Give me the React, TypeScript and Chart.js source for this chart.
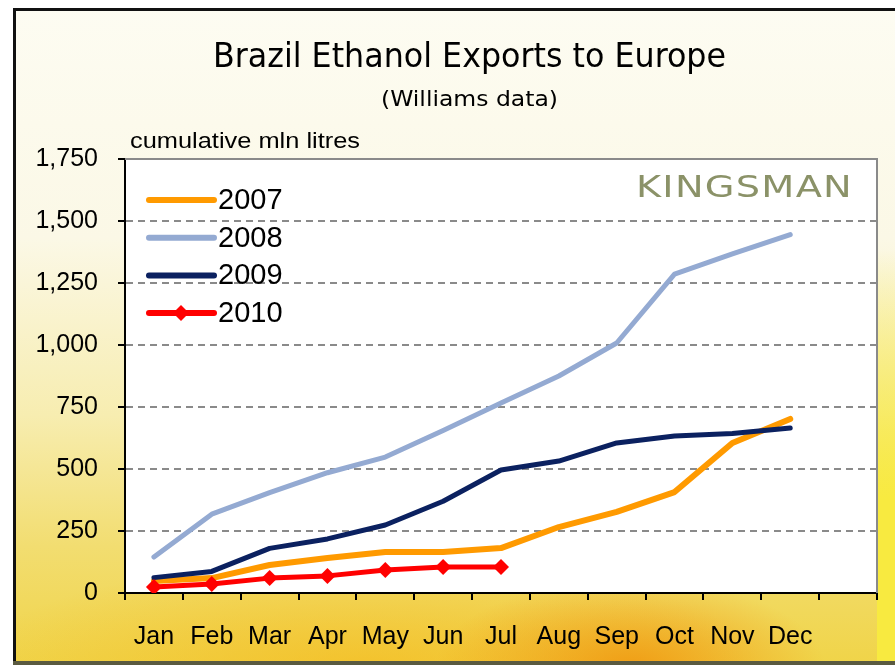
import React, { useEffect, useRef } from "react";
import { Chart, registerables } from "chart.js";

Chart.register(...registerables);

const months = ["Jan", "Feb", "Mar", "Apr", "May", "Jun", "Jul", "Aug", "Sep", "Oct", "Nov", "Dec", ""];
const s2007 = [48, 60, 113, 141, 165, 165, 181, 266, 327, 407, 605, 702];
const s2008 = [145, 318, 405, 485, 548, 655, 766, 875, 1008, 1286, 1367, 1445];
const s2009 = [62, 87, 180, 218, 274, 370, 496, 532, 605, 633, 643, 665];
const s2010 = [24, 36, 60, 69, 93, 105, 105];
const seriesNames = ["2007", "2008", "2009", "2010"];
const yTicks = [0, 250, 500, 750, 1000, 1250, 1500, 1750];

const TITLE = "Brazil Ethanol Exports to Europe";
const SUBTITLE = "(Williams data)";
const YTITLE = "cumulative mln litres";
const WATERMARK = "KINGSMAN";

function fitText(ctx: any, text: string, x: number, y: number, w: number) {
  const m = ctx.measureText(text).width;
  ctx.save();
  ctx.translate(x, y);
  ctx.scale(w / m, 1);
  ctx.fillText(text, 0, 0);
  ctx.restore();
}

const decor = {
  id: "decor",
  beforeDraw(chart: any) {
    const { ctx, chartArea: a } = chart;
    ctx.save();
    ctx.fillStyle = "#ffffff";
    ctx.fillRect(a.left, a.top, a.right - a.left, a.bottom - a.top);
    ctx.restore();
  },
  afterDraw(chart: any) {
    const { ctx, chartArea: a } = chart;
    ctx.save();
    ctx.strokeStyle = "#8a8a8a";
    ctx.lineWidth = 2;
    ctx.beginPath();
    ctx.moveTo(a.left, a.top);
    ctx.lineTo(a.right, a.top);
    ctx.lineTo(a.right, a.bottom);
    ctx.stroke();
    ctx.fillStyle = "#000";
    ctx.textAlign = "left";
    ctx.textBaseline = "alphabetic";
    ctx.font = "34px 'DejaVu Sans Condensed', 'DejaVu Sans', sans-serif";
    fitText(ctx, TITLE, 213, 67, 513);
    ctx.font = "22px 'DejaVu Sans Condensed', 'DejaVu Sans', sans-serif";
    fitText(ctx, SUBTITLE, 381, 106, 177);
    ctx.font = "22px 'Liberation Sans', Arial, sans-serif";
    fitText(ctx, YTITLE, 130, 148, 230);
    ctx.fillStyle = "#8b9268";
    ctx.font = "31px 'DejaVu Sans', sans-serif";
    try { (ctx as any).letterSpacing = "1px"; } catch (e) {}
    fitText(ctx, WATERMARK, 636, 197, 217);
    try { (ctx as any).letterSpacing = "0px"; } catch (e) {}
    const ds = chart.data.datasets;
    ds.forEach((d: any, i: number) => {
      const y = 200 + i * 37.7;
      ctx.strokeStyle = d.borderColor;
      ctx.lineWidth = 6;
      ctx.lineCap = "round";
      ctx.beginPath();
      ctx.moveTo(149, y);
      ctx.lineTo(214, y);
      ctx.stroke();
      if (d.pointRadius > 0) {
        const r = 8;
        ctx.fillStyle = d.borderColor;
        ctx.beginPath();
        ctx.moveTo(181, y - r);
        ctx.lineTo(181 + r, y);
        ctx.lineTo(181, y + r);
        ctx.lineTo(181 - r, y);
        ctx.closePath();
        ctx.fill();
      }
      ctx.fillStyle = "#000";
      ctx.font = "29px 'Liberation Sans', Arial, sans-serif";
      ctx.textBaseline = "middle";
      ctx.fillText(d.label, 218, y + 1);
    });
    ctx.restore();
  },
};

export default function App() {
  const ref = useRef<HTMLCanvasElement>(null);
  useEffect(() => {
    if (!ref.current) return;
    const lineBase = {
      fill: false,
      tension: 0,
      borderCapStyle: "round" as const,
      borderJoinStyle: "round" as const,
      pointRadius: 0,
      pointHoverRadius: 0,
    };
    const chart = new Chart(ref.current, {
      type: "line",
      data: {
        labels: months,
        datasets: [
          { ...lineBase, label: seriesNames[0], data: s2007, borderColor: "#ff9a00", borderWidth: 6, order: 4 },
          { ...lineBase, label: seriesNames[1], data: s2008, borderColor: "#94aad2", borderWidth: 5, order: 3 },
          { ...lineBase, label: seriesNames[2], data: s2009, borderColor: "#0b2160", borderWidth: 5, order: 2 },
          {
            ...lineBase,
            label: seriesNames[3],
            data: s2010,
            borderColor: "#ff0000",
            backgroundColor: "#ff0000",
            borderWidth: 5,
            pointRadius: 8,
            pointStyle: "rectRot",
            pointBorderWidth: 0,
            order: 1,
          },
        ],
      },
      options: {
        animation: false,
        responsive: false,
        devicePixelRatio: 1,
        layout: { padding: { top: 159, right: 18, left: 0, bottom: 0 } },
        plugins: { legend: { display: false }, title: { display: false }, tooltip: { enabled: false } },
        scales: {
          x: {
            type: "category",
            offset: true,
            afterFit: (s: any) => { s.height = 72; },
            grid: { drawOnChartArea: false, drawTicks: true, tickLength: 7, tickColor: "#000", offset: true, lineWidth: 2 },
            border: { color: "#000", width: 2 },
            ticks: {
              color: "#000",
              font: { family: "'Liberation Sans', Arial, sans-serif", size: 25 },
              padding: 22,
              autoSkip: false,
              maxRotation: 0,
            },
          },
          y: {
            min: 0,
            max: 1750,
            afterFit: (s: any) => { s.width = 125; },
            afterBuildTicks: (s: any) => { s.ticks = yTicks.map((v) => ({ value: v })); },
            grid: { color: "#8a8a8a", lineWidth: 2, tickColor: "#000", tickLength: 7, drawTicks: true },
            border: { color: "#000", width: 2, dash: [7, 5] },
            ticks: {
              color: "#000",
              font: { family: "'Liberation Sans', Arial, sans-serif", size: 25 },
              padding: 20,
              callback: (v: any) => Number(v).toLocaleString("en-US"),
            },
          },
        },
      },
      plugins: [decor],
    });
    return () => chart.destroy();
  }, []);

  const bg =
    "radial-gradient(ellipse 22% 13% at 70% 100%, rgba(240,150,15,0.85), rgba(240,150,15,0) 100%)," +
    "radial-gradient(ellipse 45% 16% at 40% 100%, rgba(245,185,30,0.65), rgba(245,185,30,0) 100%)," +
    "linear-gradient(to bottom, #fdfcf2 0%, #fbf8e6 35%, #f7edb0 62%, #f2dd70 82%, #f0d448 100%)";

  return (
    <div style={{ position: "absolute", left: 0, top: 0, width: 895, height: 665, background: "#fff", overflow: "hidden" }}>
      <div style={{ position: "absolute", left: 13, top: 8, right: 0, bottom: 0, background: bg }} />
      <div style={{ position: "absolute", right: 0, top: 250, width: 18, bottom: 0, background: "linear-gradient(to bottom, rgba(250,240,120,0), #f8ea40 60%)" }} />
      <canvas ref={ref} width={895} height={665} style={{ position: "absolute", left: 0, top: 0 }} />
      <div style={{ position: "absolute", left: 13, top: 8, width: 3, bottom: 0, background: "#111" }} />
      <div style={{ position: "absolute", left: 13, top: 8, right: 0, height: 3, background: "#111" }} />
      <div style={{ position: "absolute", left: 13, bottom: 0, right: 0, height: 4, background: "#5a5a40" }} />
    </div>
  );
}
